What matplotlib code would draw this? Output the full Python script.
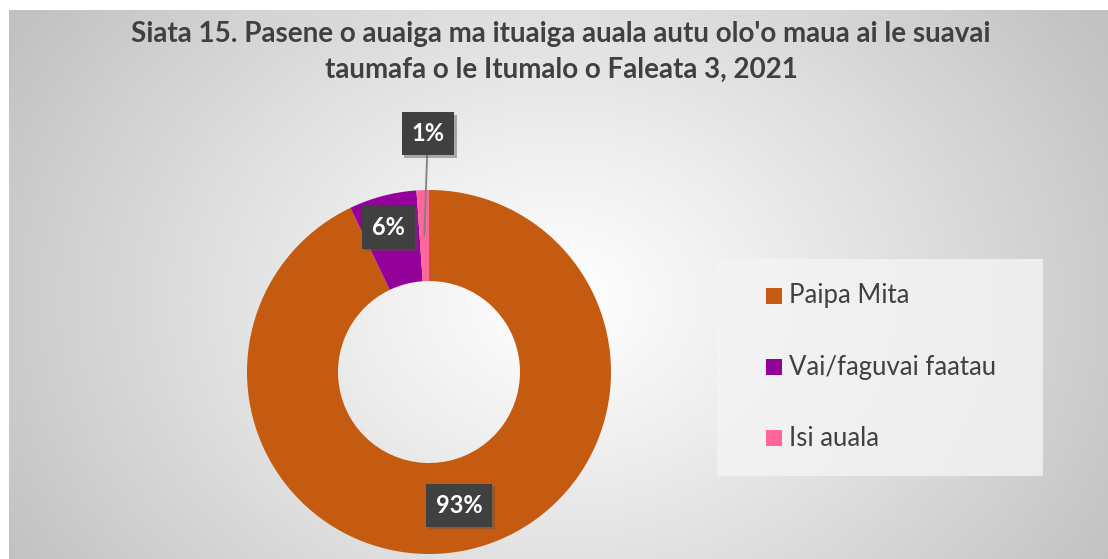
import numpy as np
import matplotlib
matplotlib.use("Agg")
import matplotlib.pyplot as plt
import matplotlib.patheffects as pe
from matplotlib.patches import Rectangle

# Data
categories = ["Paipa Mita", "Vai/faguvai faatau", "Isi auala"]
shares = [92.9, 6.0, 1.1]
pct_labels = ["93%", "6%", "1%"]
colors = ["#C55A11", "#93009A", "#FF6699"]

title = ("Siata 15. Pasene o auaiga ma ituaiga auala autu olo'o maua ai le suavai\n"
         "taumafa o le Itumalo o Faleata 3, 2021")

W, H = 1108, 559
fig = plt.figure(figsize=(W / 100, H / 100), dpi=100)
fig.patch.set_facecolor("white")

# gradient background of the chart area
bg = fig.add_axes([9 / W, 0, 1 - 9 / W, 1 - 10 / H])
bg.set_axis_off()
yy, xx = np.mgrid[10:H, 9:W]
d = np.hypot(xx - 560, (yy - 300) * 1.25)
v = 1.0 - 0.24 * np.clip(d / 640, 0, 1) ** 1.1
bg.imshow(np.dstack([v, v, v]), aspect="auto", extent=[0, 1, 0, 1], zorder=0)

# donut
cx, cy, r = 429, 372, 182
ax = fig.add_axes([(cx - r) / W, (H - cy - r) / H, 2 * r / W, 2 * r / H])
ax.set_facecolor("none")
wedges, _ = ax.pie(shares, colors=colors, startangle=90, counterclock=False,
                   radius=1.0, wedgeprops=dict(width=0.5, edgecolor="none"))
ax.set_xlim(-1, 1)
ax.set_ylim(-1, 1)
ax.set_aspect("equal")

label_font = dict(family="Lato", weight="bold", size=17, color="white")
box = dict(boxstyle="square,pad=0.42", facecolor="#404040", edgecolor="none")
shadow = [pe.withSimplePatchShadow(offset=(2, -2), shadow_rgbFace="#555555", alpha=0.45),
          pe.Normal()]

for i, (w, lab) in enumerate(zip(wedges, pct_labels)):
    ang = np.deg2rad((w.theta1 + w.theta2) / 2)
    px, py = 0.75 * np.cos(ang), 0.75 * np.sin(ang)
    if i == 2:
        t = ax.annotate(lab, xy=(px, py), xytext=(px + 0.02, 1.31),
                        ha="center", va="center", bbox=box, **label_font,
                        arrowprops=dict(arrowstyle="-", color="#808080", lw=1.3,
                                        shrinkA=0, shrinkB=0))
    elif i == 1:
        t = ax.text(px - 0.03, py + 0.07, lab, ha="center", va="center", bbox=box, **label_font)
    else:
        t = ax.text(px, py, lab, ha="center", va="center", bbox=box, **label_font)
    t.get_bbox_patch().set_path_effects(shadow)

# legend
fig.patches.append(Rectangle((717 / W, 1 - 476 / H), (1043 - 717) / W, (476 - 259) / H,
                             transform=fig.transFigure, facecolor="#f4f4f4",
                             edgecolor="none", alpha=0.8, zorder=1))
for i, (name, col) in enumerate(zip(categories, colors)):
    ycen = 296 + 71 * i
    fig.patches.append(Rectangle((766 / W, 1 - (ycen + 8) / H), 16 / W, 16 / H,
                                 transform=fig.transFigure, facecolor=col,
                                 edgecolor="none", zorder=2))
    fig.text(789 / W, 1 - ycen / H, name, ha="left", va="center", family="Lato",
             size=18.5, color="#404040", zorder=3)

fig.text(0.5 + 7 / W, 1 - 52 / H, title, ha="center", va="center", family="Lato",
         weight="bold", size=20, color="#404040", linespacing=1.43)

fig.savefig("out.png", dpi=100)
